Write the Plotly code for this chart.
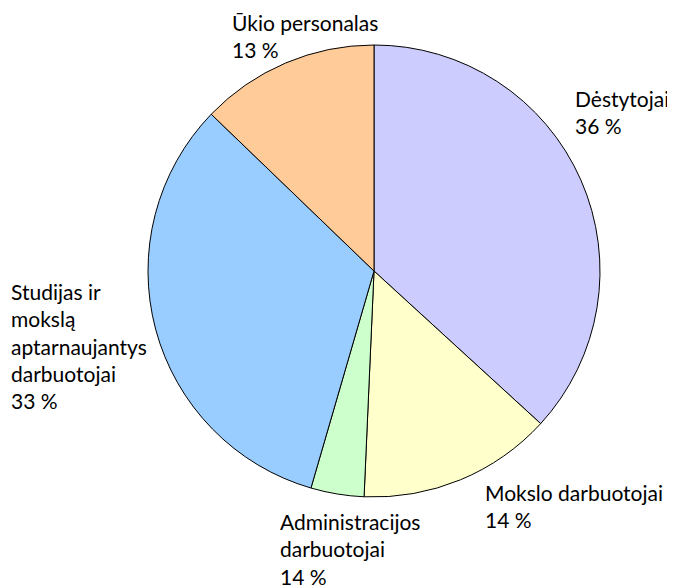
import plotly.graph_objects as go

W, H = 675, 586
OFF = 8  # page body margin in the browser

# Data
categories = ["Dėstytojai", "Mokslo darbuotojai", "Administracijos<br>darbuotojai",
              "Studijas ir<br>mokslą<br>aptarnaujantys<br>darbuotojai", "Ūkio personalas"]
shares = [36.8, 13.9, 3.8, 32.7, 12.8]
pct_labels = ["36 %", "14 %", "14 %", "33 %", "13 %"]
colors = ["#CCCCFF", "#FFFFCC", "#CCFFCC", "#99CCFF", "#FFCC99"]

# label anchor positions in page pixels (left, top)
label_pos = [(565, 76), (475, 470), (270, 499), (1, 269), (222, 0)]

cx, cy, r = 374 - OFF, 271 - OFF, 226

fig = go.Figure(go.Pie(
    labels=[c.replace("<br>", " ") for c in categories],
    values=shares,
    sort=False,
    direction="clockwise",
    rotation=0,
    marker=dict(colors=colors, line=dict(color="black", width=1)),
    textinfo="none",
    hoverinfo="label+percent",
    domain=dict(x=[(cx - r) / W, (cx + r) / W], y=[1 - (cy + r) / H, 1 - (cy - r) / H]),
    showlegend=False,
))

annotations = []
for cat, pct, (px, py) in zip(categories, pct_labels, label_pos):
    annotations.append(dict(
        text=f"{cat}<br>{pct}", x=px / W, y=1 - py / H, xref="paper", yref="paper",
        xanchor="left", yanchor="top", align="left", showarrow=False,
        font=dict(family="Lato", size=21, color="black"),
    ))

fig.update_layout(
    width=W, height=H, margin=dict(l=0, r=0, t=0, b=0),
    paper_bgcolor="white", plot_bgcolor="white",
    annotations=annotations,
)

fig.write_html("out.html")
